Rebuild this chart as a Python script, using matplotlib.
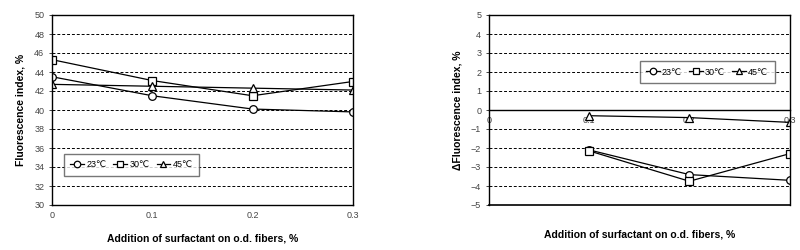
import matplotlib.pyplot as plt

plt.rcParams['font.family'] = ['Liberation Sans', 'DejaVu Sans']

x = [0, 0.1, 0.2, 0.3]
x_delta = [0.1, 0.2, 0.3]
labels = ['23℃', '30℃', '45℃']
markers = ['o', 's', '^']

# Fluorescence index, %
fi_23 = [43.5, 41.5, 40.1, 39.8]
fi_30 = [45.3, 43.1, 41.5, 43.0]
fi_45 = [42.7, 42.5, 42.3, 42.1]

# change of fluorescence index, %
dfi_23 = [-2.1, -3.4, -3.7]
dfi_30 = [-2.15, -3.75, -2.3]
dfi_45 = [-0.3, -0.4, -0.65]

fig = plt.figure(figsize=(8, 2.5), dpi=100)
ax1 = fig.add_axes([0.065, 0.18, 0.376, 0.76])
ax2 = fig.add_axes([0.611, 0.18, 0.376, 0.76])

style = dict(color='black', lw=0.9, markersize=5.5, markerfacecolor='white',
             markeredgecolor='black', markeredgewidth=0.9)

for ys, lab, m in zip([fi_23, fi_30, fi_45], labels, markers):
    ax1.plot(x, ys, marker=m, label=lab, **style)
for ys, lab, m in zip([dfi_23, dfi_30, dfi_45], labels, markers):
    ax2.plot(x_delta, ys, marker=m, label=lab, zorder=1.5, **style)

# left panel
ax1.set_xlim(0, 0.3)
ax1.set_ylim(30, 50)
ax1.set_xticks(x)
ax1.set_xticklabels(['0', '0.1', '0.2', '0.3'])
ax1.set_yticks(range(30, 51, 2))
ax1.set_ylabel('Fluorescence index, %', fontsize=7.5, fontweight='bold', labelpad=6)
ax1.set_xlabel('Addition of surfactant on o.d. fibers, %', fontsize=7.5,
               fontweight='bold', labelpad=10)

# right panel
ax2.set_xlim(0, 0.3)
ax2.set_ylim(-5, 5)
ax2.set_xticks(x)
ax2.set_xticklabels(['0', '0.1', '0.2', '0.3'])
ax2.set_yticks(range(-5, 6))
ax2.spines['bottom'].set_position(('data', 0))
ax2.axhline(-5, color='black', lw=1.2, clip_on=False)
ax2.set_ylabel('ΔFluorescence index, %', fontsize=7.5, fontweight='bold', labelpad=6)
ax2.text(0.15, -6.55, 'Addition of surfactant on o.d. fibers, %', fontsize=7.5,
         fontweight='bold', ha='center', va='center')

for ax in (ax1, ax2):
    ax.grid(axis='y', color='black', linestyle=(0, (3, 2)), lw=0.7)
    ax.set_axisbelow(True)
    ax.tick_params(labelsize=6.5, colors='#444444', length=2.5, width=0.7,
                   direction='out', pad=3)
    ax.tick_params(axis='x', length=0, pad=4)
    for s in ax.spines.values():
        s.set_linewidth(1.0)
        s.set_color('black')

leg_kw = dict(ncol=3, fontsize=6.5, frameon=True, fancybox=False,
              edgecolor='#555555', handlelength=1.5, handletextpad=0.25,
              columnspacing=0.8, borderpad=0.7, markerscale=0.85)
ax1.legend(loc='lower left', bbox_to_anchor=(0.025, 0.13), **leg_kw)
ax2.legend(loc='upper right', bbox_to_anchor=(0.965, 0.78), **leg_kw)

fig.savefig('out.png', dpi=100)
